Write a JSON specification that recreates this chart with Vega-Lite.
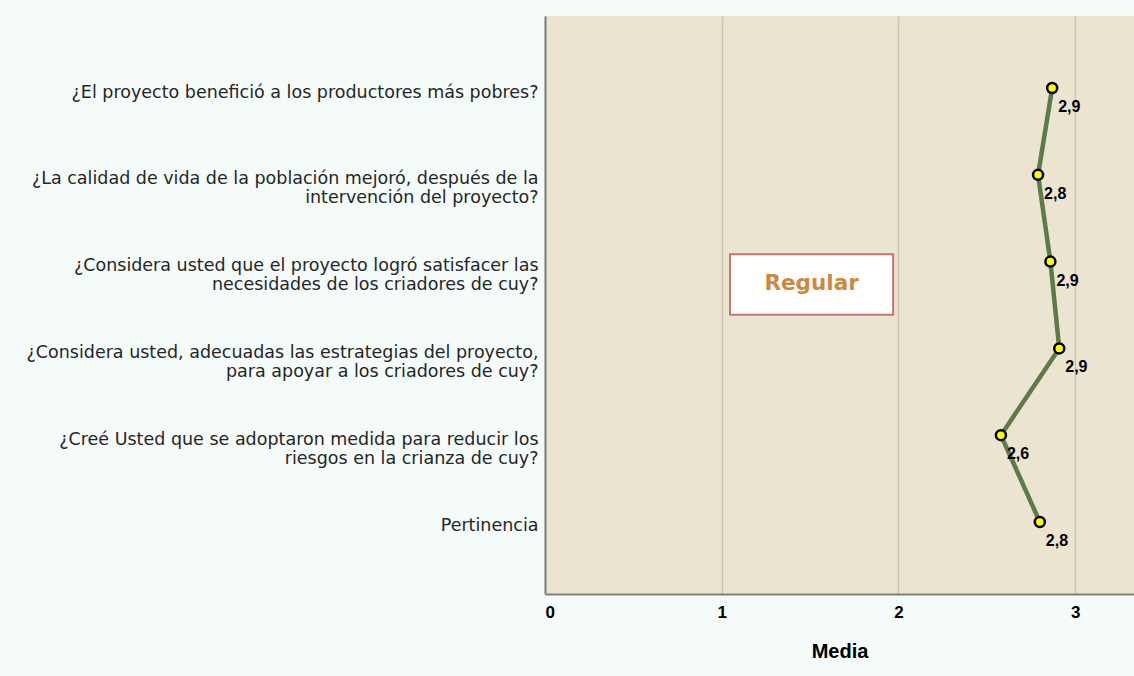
{
  "$schema": "https://vega.github.io/schema/vega-lite/v6.json",
  "width": 589,
  "height": 578,
  "autosize": {"type": "none"},
  "padding": {"left": 545, "top": 16, "right": 0, "bottom": 82},
  "background": "#f4fbf8",
  "config": {
    "view": {"fill": "#eae4d1", "stroke": null},
    "locale": {"number": {"decimal": ",", "thousands": ".", "grouping": [3], "currency": ["", ""]}}
  },
  "datasets": {
    "medias": [
      {"orden": 1, "pregunta": "¿El proyecto benefició a los productores más pobres?", "media": 2.87},
      {"orden": 2, "pregunta": "¿La calidad de vida de la población mejoró, después de la\nintervención del proyecto?", "media": 2.79},
      {"orden": 3, "pregunta": "¿Considera usted que el proyecto logró satisfacer las\nnecesidades de los criadores de cuy?", "media": 2.86},
      {"orden": 4, "pregunta": "¿Considera usted, adecuadas las estrategias del proyecto,\npara apoyar a los criadores de cuy?", "media": 2.91},
      {"orden": 5, "pregunta": "¿Creé Usted que se adoptaron medida para reducir los\nriesgos en la crianza de cuy?", "media": 2.58},
      {"orden": 6, "pregunta": "Pertinencia", "media": 2.80}
    ],
    "nota": [
      {"etiqueta": "Regular", "x1": 1.047, "x2": 1.97, "y1": 0.588, "y2": 0.483}
    ]
  },
  "layer": [
    {
      "data": {"name": "medias"},
      "layer": [
        {
          "mark": {"type": "line", "color": "#5d7b48", "strokeWidth": 4.5},
          "encoding": {
            "x": {
              "field": "media", "type": "quantitative",
              "scale": {"domain": [0, 3.333], "nice": false, "zero": true},
              "axis": {
                "values": [0, 1, 2, 3], "format": "d", "title": "Media",
                "grid": true, "gridColor": "#c9c3b5", "gridWidth": 1.5,
                "domainColor": "#808080", "domainWidth": 2,
                "ticks": false, "labelPadding": 10,
                "labelFont": "Liberation Sans", "labelFontWeight": "bold", "labelFontSize": 17, "labelColor": "#000000",
                "titleFont": "Liberation Sans", "titleFontWeight": "bold", "titleFontSize": 20, "titleColor": "#000000",
                "titlePadding": 21
              }
            },
            "y": {
              "field": "pregunta", "type": "nominal", "sort": {"field": "orden"},
              "scale": {"type": "point", "padding": 0.83},
              "axis": {
                "title": null, "ticks": false, "domainColor": "#808080", "domainWidth": 2,
                "labelExpr": "split(datum.label, '\\n')",
                "labelFont": "DejaVu Sans", "labelFontSize": 17.5, "labelColor": "#262626",
                "labelLimit": 560, "labelPadding": 7, "labelLineHeight": 19, "labelOffset": 4
              }
            },
            "order": {"field": "orden", "type": "quantitative"}
          }
        },
        {
          "mark": {"type": "point", "filled": true, "fill": "#ffff00", "stroke": "#000000", "strokeWidth": 2.5, "size": 100, "opacity": 1},
          "encoding": {
            "x": {"field": "media", "type": "quantitative"},
            "y": {"field": "pregunta", "type": "nominal", "sort": {"field": "orden"}}
          }
        },
        {
          "mark": {"type": "text", "align": "left", "baseline": "middle", "dx": 6, "dy": 19, "font": "Liberation Sans", "fontWeight": "bold", "fontSize": 16, "color": "#000000"},
          "encoding": {
            "x": {"field": "media", "type": "quantitative"},
            "y": {"field": "pregunta", "type": "nominal", "sort": {"field": "orden"}},
            "text": {"field": "media", "type": "quantitative", "format": ".1f"}
          }
        }
      ]
    },
    {
      "data": {"name": "nota"},
      "layer": [
        {
          "mark": {"type": "rect", "fill": "#ffffff", "stroke": "#c87472", "strokeWidth": 2},
          "encoding": {
            "x": {"field": "x1", "type": "quantitative"},
            "x2": {"field": "x2"},
            "y": {"field": "y1", "type": "quantitative", "scale": {"domain": [0, 1], "nice": false}, "axis": null},
            "y2": {"field": "y2"}
          }
        },
        {
          "transform": [{"calculate": "(datum.x1 + datum.x2) / 2", "as": "xc"}, {"calculate": "(datum.y1 + datum.y2) / 2", "as": "yc"}],
          "mark": {"type": "text", "font": "DejaVu Sans", "fontWeight": "bold", "fontSize": 21.5, "color": "#d08840", "baseline": "middle", "align": "center"},
          "encoding": {
            "x": {"field": "xc", "type": "quantitative"},
            "y": {"field": "yc", "type": "quantitative"},
            "text": {"field": "etiqueta"}
          }
        }
      ]
    }
  ],
  "resolve": {"scale": {"y": "independent"}}
}
